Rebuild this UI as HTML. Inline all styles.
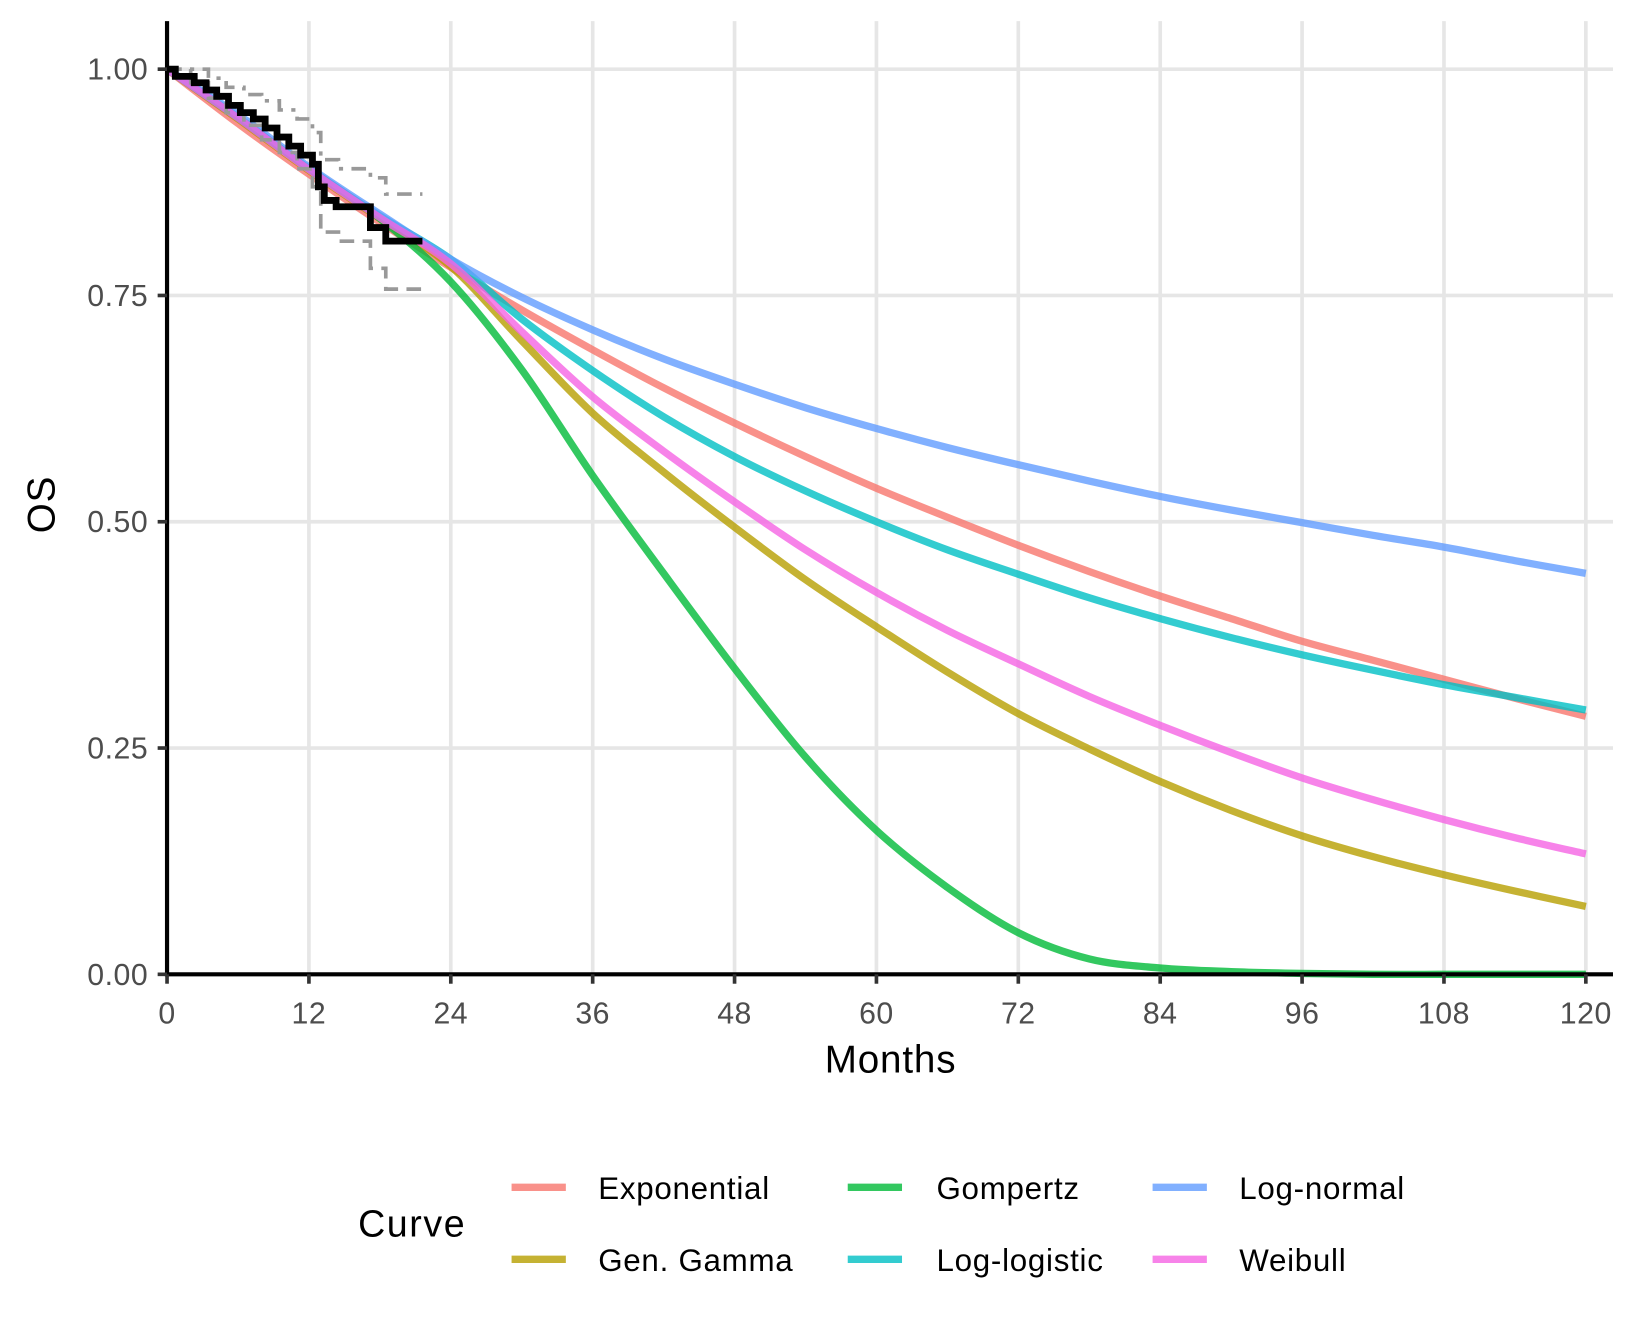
<!DOCTYPE html>
<html><head><meta charset="utf-8"><style>
body{margin:0;background:#fff;font-family:"Liberation Sans",Arial,sans-serif}
svg{display:block}
svg text{font-family:"Liberation Sans",Arial,sans-serif}
</style></head><body>
<svg id="c" width="1637" height="1340" viewBox="0 0 1568 1283">
<rect width="1568" height="1283" fill="#fff"/>
<g id="grid"></g><g id="curves"></g><g id="km"></g><g id="axes"></g>
<text x="853" y="1027" text-anchor="middle" font-size="37" letter-spacing="0.8" fill="#000">Months</text>
<text transform="translate(52,483) rotate(-90)" text-anchor="middle" font-size="37" letter-spacing="0.8" fill="#000">OS</text>
<text x="343" y="1184" font-size="36" letter-spacing="1.5" fill="#000">Curve</text>
<g stroke-width="7" stroke-opacity="0.8">
<line x1="490" x2="542" y1="1137" y2="1137" stroke="#F8766D"/>
<line x1="490" x2="542" y1="1206" y2="1206" stroke="#B79F00"/>
<line x1="812" x2="864" y1="1137" y2="1137" stroke="#00BA38"/>
<line x1="812" x2="864" y1="1206" y2="1206" stroke="#00BFC4"/>
<line x1="1104" x2="1156" y1="1137" y2="1137" stroke="#619CFF"/>
<line x1="1104" x2="1156" y1="1206" y2="1206" stroke="#F564E3"/>
</g>
<g font-size="30" letter-spacing="0.7" fill="#000">
<text x="573" y="1148">Exponential</text>
<text x="573" y="1217">Gen. Gamma</text>
<text x="897" y="1148">Gompertz</text>
<text x="897" y="1217">Log-logistic</text>
<text x="1187" y="1148">Log-normal</text>
<text x="1187" y="1217">Weibull</text>
</g>
</svg>
<script>
const months = [0,6,12,18,24,30,36,42,48,54,60,66,72,78,84,90,96,102,108,114,120];
const curveNames = ["Exponential","Gen. Gamma","Gompertz","Log-logistic","Log-normal","Weibull"];
const curveColors = ["#F8766D","#B79F00","#00BA38","#00BFC4","#619CFF","#F564E3"];
const expVals = [1,0.94,0.884,0.831,0.781,0.734,0.69,0.648,0.609,0.572,0.537,0.505,0.474,0.445,0.418,0.393,0.368,0.347,0.326,0.305,0.285];
const ggVals = [1,0.945,0.888,0.835,0.782,0.7,0.62,0.555,0.494,0.436,0.384,0.334,0.288,0.249,0.213,0.181,0.153,0.13,0.11,0.092,0.075];
const gompVals = [1,0.946,0.89,0.835,0.765,0.668,0.551,0.443,0.338,0.24,0.159,0.096,0.046,0.017,0.007,0.003,0.001,0,0,0,0];
const llVals = [1,0.947,0.89,0.838,0.79,0.724,0.667,0.616,0.572,0.534,0.5,0.469,0.442,0.416,0.393,0.372,0.353,0.336,0.32,0.306,0.292];
const lnVals = [1,0.95,0.892,0.84,0.79,0.748,0.712,0.68,0.652,0.626,0.603,0.582,0.563,0.545,0.528,0.513,0.499,0.485,0.472,0.457,0.443];
const wbVals = [1,0.946,0.889,0.836,0.785,0.71,0.638,0.578,0.522,0.469,0.422,0.38,0.343,0.307,0.275,0.245,0.217,0.193,0.171,0.151,0.133];
const allVals = [expVals,ggVals,gompVals,llVals,lnVals,wbVals];
const kmTimes = [0,0.7,2.3,3.3,4.2,5.2,6.2,7.3,8.3,9.3,10.3,11.3,12.3,12.8,13.3,14.3,17.2,18.5,21.6];
const kmSurv = [1,0.992,0.985,0.977,0.97,0.96,0.952,0.945,0.935,0.925,0.915,0.905,0.895,0.87,0.855,0.848,0.825,0.81,0.81];
const ciTimes = [0,2,3.5,5,6.5,8,9.5,11,12.3,13,14.5,17.2,18.5,21.6];
const ciUpper = [1,1,0.99,0.98,0.972,0.965,0.955,0.945,0.93,0.9,0.89,0.88,0.862,0.862];
const ciLower = [1,0.985,0.968,0.952,0.938,0.922,0.908,0.89,0.87,0.82,0.81,0.78,0.757,0.757];
const xTicks = [0,12,24,36,48,60,72,84,96,108,120];
const yTicks = [0,0.25,0.5,0.75,1];
const yTickLabels = ["0.00","0.25","0.50","0.75","1.00"];

const X0=160,X1=1519,Y1=66,Y0=933;
const sx=t=>X0+(t/120)*(X1-X0);
const sy=v=>Y0-v*(Y0-Y1);
const NS="http://www.w3.org/2000/svg";
function mk(tag,attrs,parent){const e=document.createElementNS(NS,tag);for(const k in attrs)e.setAttribute(k,attrs[k]);parent.appendChild(e);return e;}
const grid=document.getElementById('grid');
xTicks.forEach(t=>{const l=mk('line',{x1:sx(t),x2:sx(t),y1:20,y2:Y0,stroke:'#e6e6e6','stroke-width':3.5},grid);

});
yTicks.forEach(v=>{const l=mk('line',{x1:X0,x2:1545,y1:sy(v),y2:sy(v),stroke:'#e6e6e6','stroke-width':3.5},grid);

});
function smooth(xs,ys){let d=`M${xs[0]},${ys[0]}`;for(let i=0;i<xs.length-1;i++){const p0=i>0?i-1:i,p3=i+2<xs.length?i+2:i+1;
const c1x=xs[i]+(xs[i+1]-xs[p0])/6,c1y=ys[i]+(ys[i+1]-ys[p0])/6,c2x=xs[i+1]-(xs[p3]-xs[i])/6,c2y=ys[i+1]-(ys[p3]-ys[i])/6;
d+=` C${c1x},${c1y} ${c2x},${c2y} ${xs[i+1]},${ys[i+1]}`;}return d;}
const cg=document.getElementById('curves');
allVals.forEach((vals,i)=>{const p=mk('path',{d:smooth(months.map(sx),vals.map(sy)),fill:'none',stroke:curveColors[i],'stroke-width':7,'stroke-opacity':0.8},cg);

});
function step(ts,vs){let d=`M${sx(ts[0])},${sy(vs[0])}`;for(let i=1;i<ts.length;i++){d+=` H${sx(ts[i])} V${sy(vs[i])}`;}return d;}
const kg=document.getElementById('km');
const cu=mk('path',{d:step(ciTimes,ciUpper),fill:'none',stroke:'#999','stroke-width':3.5,'stroke-dasharray':'14 8 4 8'},kg);


const cl=mk('path',{d:step(ciTimes,ciLower),fill:'none',stroke:'#999','stroke-width':3.5,'stroke-dasharray':'14 8'},kg);


const km=mk('path',{d:step(kmTimes,kmSurv),fill:'none',stroke:'#000','stroke-width':6.5},kg);


const ag=document.getElementById('axes');
mk('line',{x1:X0,x2:X0,y1:20,y2:Y0+2,stroke:'#000','stroke-width':4},ag);
mk('line',{x1:X0-2,x2:1545,y1:Y0,y2:Y0,stroke:'#000','stroke-width':4},ag);
xTicks.forEach(t=>{mk('line',{x1:sx(t),x2:sx(t),y1:Y0,y2:Y0+9,stroke:'#333','stroke-width':3.5},ag);
const tx=mk('text',{x:sx(t),y:980,'text-anchor':'middle','font-size':29,'letter-spacing':0.5,fill:'#4d4d4d'},ag);tx.textContent=t;

});
yTicks.forEach((v,i)=>{mk('line',{x1:X0-9,x2:X0,y1:sy(v),y2:sy(v),stroke:'#333','stroke-width':3.5},ag);
const tx=mk('text',{x:142,y:sy(v)+10,'text-anchor':'end','font-size':29,'letter-spacing':0.5,fill:'#4d4d4d'},ag);tx.textContent=yTickLabels[i];

});
</script>
</body></html>
